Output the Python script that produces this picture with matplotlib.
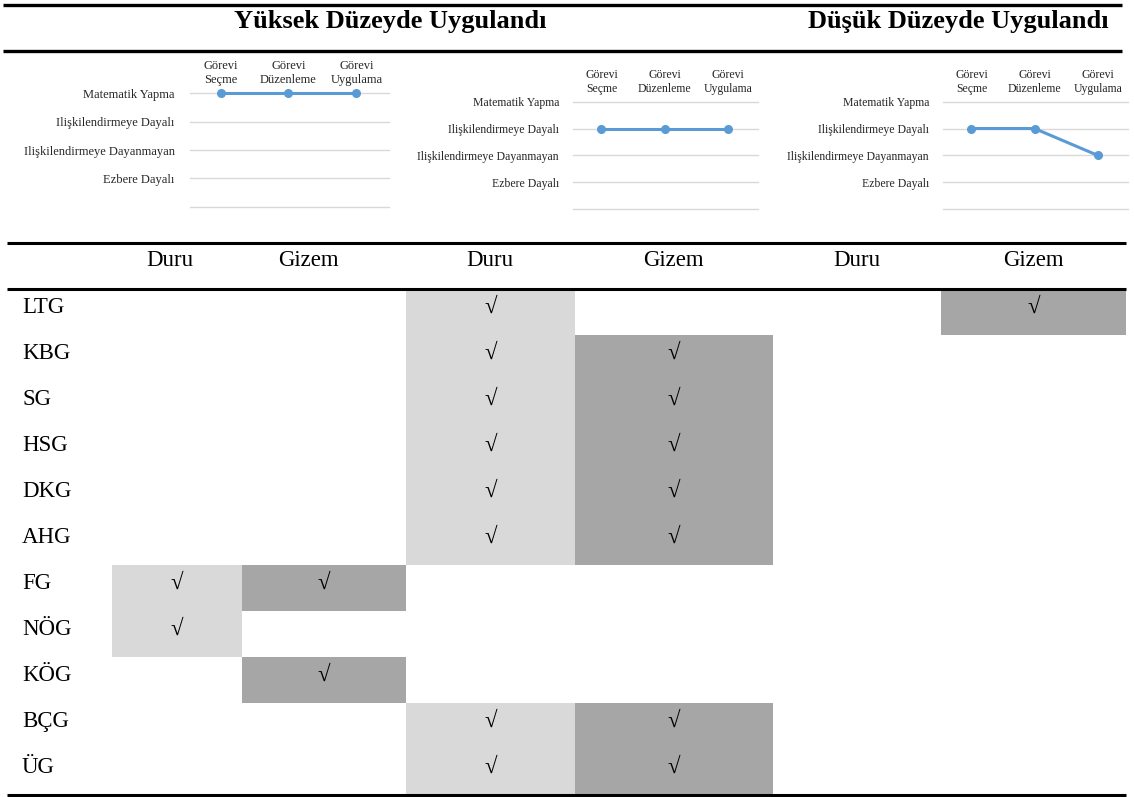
import numpy as np
import matplotlib.pyplot as plt

# data
levels = ["Yüksek Düzeyde Uygulandı", "Düşük Düzeyde Uygulandı"]
students = ["Duru", "Gizem", "Duru", "Gizem", "Duru", "Gizem"]
codes = ["LTG", "KBG", "SG", "HSG", "DKG", "AHG", "FG", "NÖG", "KÖG", "BÇG", "ÜG"]
# 1 = checked, columns follow students
checks = [
    [0, 0, 1, 0, 0, 1],
    [0, 0, 1, 1, 0, 0],
    [0, 0, 1, 1, 0, 0],
    [0, 0, 1, 1, 0, 0],
    [0, 0, 1, 1, 0, 0],
    [0, 0, 1, 1, 0, 0],
    [1, 1, 0, 0, 0, 0],
    [1, 0, 0, 0, 0, 0],
    [0, 1, 0, 0, 0, 0],
    [0, 0, 1, 1, 0, 0],
    [0, 0, 1, 1, 0, 0],
]
kinds = ["Matematik Yapma", "Ilişkilendirmeye Dayalı",
         "Ilişkilendirmeye Dayanmayan", "Ezbere Dayalı"]
phases = ["Görevi\nSeçme", "Görevi\nDüzenleme", "Görevi\nUygulama"]
trend_a = [0, 0, 0]
trend_b = [1, 1, 1]
trend_c = [1, 1, 2]

# layout (pixels)
W, H = 1134, 797
col_edges = [112, 242, 406, 575, 773, 941, 1126]
head_x = [170, 308, 490, 673, 857, 1033]
row_top, row_h = 289, 46
light, dark = "#D9D9D9", "#A6A6A6"
serif = ["Liberation Serif", "DejaVu Serif"]

fig = plt.figure(figsize=(W / 100, H / 100), dpi=100)
ax = fig.add_axes([0, 0, 1, 1])
ax.set_xlim(0, W)
ax.set_ylim(H, 0)
ax.axis("off")

# rules
ax.hlines([5, 51], 3, 1122, color="black", lw=2.4)
ax.hlines([243, 289, 795], 7, 1126, color="black", lw=2.2)

ax.text(390, 28, levels[0], ha="center", va="baseline", fontsize=19,
        fontweight="bold", family=serif)
ax.text(958, 28, levels[1], ha="center", va="baseline", fontsize=19,
        fontweight="bold", family=serif)

# shaded cells
arr = np.array(checks)
for j in range(len(students)):
    rows = np.where(arr[:, j] == 1)[0]
    color = light if students[j] == "Duru" else dark
    ax.bar(np.full(len(rows), col_edges[j]), row_h, width=col_edges[j + 1] - col_edges[j],
           bottom=row_top + rows * row_h, align="edge", color=color, lw=0)
    for r in rows:
        ax.text((col_edges[j] + col_edges[j + 1]) / 2, row_top + 24 + r * row_h, "√",
                ha="center", va="baseline", fontsize=16.5, family=serif)
    ax.text(head_x[j], 266, students[j], ha="center", va="baseline",
            fontsize=16.5, family=serif)

for i, c in enumerate(codes):
    ax.text(22, row_top + 24 + i * row_h, c, ha="left", va="baseline",
            fontsize=16.5, family=serif)


# small line charts
def mini(left, width, top, bottom, vals, pad, fs):
    a = fig.add_axes([left / W, 1 - bottom / H, width / W, (bottom - top) / H])
    a.plot(range(3), vals, color="#5B9BD5", lw=2.2, marker="o", ms=5.5, clip_on=False, zorder=3)
    a.set_xlim(-0.45, 2.48)
    a.set_ylim(4, 0)
    a.set_yticks(range(5))
    a.set_yticklabels(kinds + [""], family=serif, fontsize=fs, color="#262626")
    a.set_xticks(range(3))
    a.set_xticklabels(phases, family=serif, fontsize=fs, linespacing=1.25, color="#262626")
    a.xaxis.tick_top()
    a.tick_params(length=0, pad=pad)
    a.tick_params(axis="x", pad=5)
    a.grid(axis="y", color="#D9D9D9", lw=1)
    for gl in a.get_ygridlines():
        gl.set_clip_on(False)
    for s in a.spines.values():
        s.set_visible(False)
    a.set_facecolor("none")


mini(190, 199, 93.3, 206.7, trend_a, 11, 9)
mini(573, 185, 101.7, 209, trend_b, 10, 8.5)
mini(943, 185, 101.7, 209, trend_c, 10, 8.5)

fig.savefig("out.png", dpi=100)
